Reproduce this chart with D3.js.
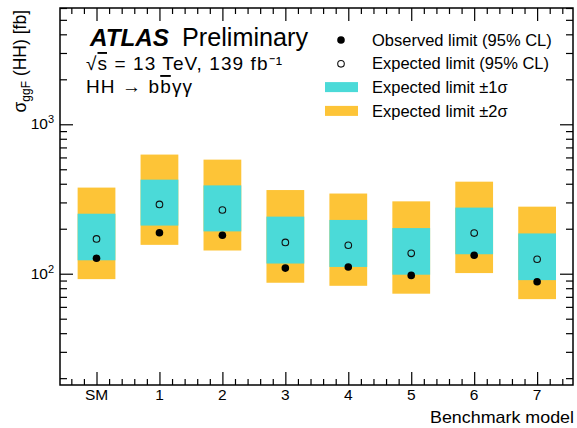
<!DOCTYPE html>
<html>
<head>
<meta charset="utf-8">
<script src="https://cdn.jsdelivr.net/npm/d3@7"></script>
<style>
  body { margin: 0; background: #fff; }
  svg text { font-family: "Liberation Sans", Arial, sans-serif; fill: #000; }
</style>
</head>
<body>
<div id="chart"></div>
<script>
// benchmark models and the limits (fb)
const models = ["SM", "1", "2", "3", "4", "5", "6", "7"];
const observed = [127, 188, 181, 109, 111, 97.4, 133, 88.4];
const expected = [171, 291, 267, 162, 155, 137, 187, 125];
const plus1 = [252, 426, 390, 241, 229, 202, 277, 186];
const minus1 = [123, 210, 192, 117, 111, 98.5, 135, 90.6];
const plus2 = [377, 627, 580, 363, 344, 305, 413, 281];
const minus2 = [92, 156, 143, 87, 83, 73.5, 101, 67.6];
const yMajor = [100, 1000];

const W = 577, H = 428;
const margin = { top: 8, right: 4, bottom: 43, left: 60 },
    width = W - margin.left - margin.right,
    height = H - margin.top - margin.bottom;

const svg = d3.select("#chart").append("svg")
    .attr("width", W).attr("height", H);
const g = svg.append("g")
    .attr("transform", `translate(${margin.left},${margin.top})`);

const x = d3.scaleLinear().domain([-0.58, 7.57]).range([0, width]);
const y = d3.scaleLog().domain([18, 6000]).range([height, 0]);

const data = models.map((m, i) => ({
    i: i, obs: observed[i], exp: expected[i],
    p1: plus1[i], m1: minus1[i], p2: plus2[i], m2: minus2[i]
}));
const bw = x(0.3) - x(0);

// +-2 sigma band
g.selectAll(".b2").data(data).enter().append("rect")
    .attr("x", d => x(d.i) - bw)
    .attr("width", 2 * bw)
    .attr("y", d => y(d.p2))
    .attr("height", d => y(d.m2) - y(d.p2))
    .attr("fill", "#fdc437");

// +-1 sigma band
g.selectAll(".b1").data(data).enter().append("rect")
    .attr("x", d => x(d.i) - bw)
    .attr("width", 2 * bw)
    .attr("y", d => y(d.p1))
    .attr("height", d => y(d.m1) - y(d.p1))
    .attr("fill", "#4bdad8");

// expected (open) and observed (filled)
g.selectAll(".exp").data(data).enter().append("circle")
    .attr("cx", d => x(d.i)).attr("cy", d => y(d.exp))
    .attr("r", 3.3).attr("fill", "none")
    .attr("stroke", "#111").attr("stroke-width", 1.1);
g.selectAll(".obs").data(data).enter().append("circle")
    .attr("cx", d => x(d.i)).attr("cy", d => y(d.obs))
    .attr("r", 3.8).attr("fill", "#000");

// ticks on all four sides
const xMinor = d3.range(-0.4, 7.5, 0.2).filter(v => Math.abs(v - Math.round(v)) > 0.01);
const yMinor = [];
[10, 100, 1000].forEach(dec => {
    for (let k = 2; k <= 9; k++) if (dec * k >= 18 && dec * k <= 6000) yMinor.push(dec * k);
});

function ax(axis, scale, vals, size, tx) {
    const sel = g.append("g").attr("transform", tx)
        .call(axis(scale).tickValues(vals).tickSizeInner(-size).tickSizeOuter(0).tickFormat(""));
    sel.select(".domain").remove();
    sel.selectAll("line").attr("stroke", "#000").attr("stroke-width", 1.2);
    return sel;
}
ax(d3.axisBottom, x, xMinor, 6, `translate(0,${height})`);
ax(d3.axisTop, x, xMinor, 6, "translate(0,0)");
ax(d3.axisBottom, x, d3.range(0, 8), 13, `translate(0,${height})`);
ax(d3.axisTop, x, d3.range(0, 8), 13, "translate(0,0)");
ax(d3.axisLeft, y, yMinor, 7, "translate(0,0)");
ax(d3.axisRight, y, yMinor, 7, `translate(${width},0)`);
ax(d3.axisLeft, y, yMajor, 13, "translate(0,0)");
ax(d3.axisRight, y, yMajor, 13, `translate(${width},0)`);

// frame
g.append("rect").attr("width", width).attr("height", height)
    .attr("fill", "none").attr("stroke", "#000").attr("stroke-width", 1.5);

// x tick labels
g.selectAll(".xl").data(models).enter().append("text")
    .attr("x", (d, i) => x(i)).attr("y", height + 15)
    .attr("text-anchor", "middle").style("font-size", "15.5px")
    .text(d => d);

// y tick labels 10^2, 10^3
yMajor.forEach(v => {
    const t = g.append("text").attr("x", -6).attr("y", y(v) + 5)
        .attr("text-anchor", "end").style("font-size", "15.5px");
    t.append("tspan").text("10");
    t.append("tspan").attr("dy", -6).style("font-size", "11px").text(Math.round(Math.log10(v)));
});

// axis titles
svg.append("text").attr("x", 430).attr("y", 423)
    .attr("textLength", 144).attr("lengthAdjust", "spacingAndGlyphs")
    .style("font-size", "17px").text("Benchmark model");
const yt = svg.append("text")
    .attr("transform", "translate(26,10) rotate(-90)")
    .attr("text-anchor", "end").style("font-size", "17.5px");
yt.append("tspan").text("σ");
yt.append("tspan").attr("dy", 4).style("font-size", "12px").text("ggF");
yt.append("tspan").attr("dy", -4).text(" (HH) [fb]");

// ATLAS label
svg.append("text").attr("x", 90).attr("y", 46)
    .attr("textLength", 79).attr("lengthAdjust", "spacingAndGlyphs")
    .style("font-size", "24px").style("font-weight", "bold").style("font-style", "italic")
    .text("ATLAS");
svg.append("text").attr("x", 182).attr("y", 46)
    .attr("textLength", 126).attr("lengthAdjust", "spacingAndGlyphs")
    .style("font-size", "25px").text("Preliminary");

const en = svg.append("text").attr("x", 86).attr("y", 70)
    .attr("textLength", 196).attr("lengthAdjust", "spacing")
    .style("font-size", "19px");
en.append("tspan").text("√");
en.append("tspan").style("text-decoration", "overline").text("s");
en.append("tspan").text(" = 13 TeV, 139 fb⁻¹");

const hh = svg.append("text").attr("x", 86).attr("y", 93)
    .attr("textLength", 106).attr("lengthAdjust", "spacing")
    .style("font-size", "19px");
hh.append("tspan").text("HH → b");
hh.append("tspan").style("text-decoration", "overline").text("b");
hh.append("tspan").text("γγ");

// legend
const leg = svg.append("g");
const rows = [
    { t: "Observed limit (95% CL)", k: "obs" },
    { t: "Expected limit (95% CL)", k: "exp" },
    { t: "Expected limit ±1σ", k: "b1" },
    { t: "Expected limit ±2σ", k: "b2" }
];
rows.forEach((r, i) => {
    const cy = 40 + i * 23.8;
    if (r.k === "obs") leg.append("circle").attr("cx", 341).attr("cy", cy).attr("r", 3.8).attr("fill", "#000");
    else if (r.k === "exp") leg.append("circle").attr("cx", 341).attr("cy", cy).attr("r", 3.3)
        .attr("fill", "none").attr("stroke", "#111").attr("stroke-width", 1.1);
    else leg.append("rect").attr("x", 325).attr("y", cy - 5.5).attr("width", 33).attr("height", 10)
        .attr("fill", r.k === "b1" ? "#4bdad8" : "#fdc437");
    leg.append("text").attr("x", 372).attr("y", cy + 5.5).style("font-size", "16.5px").text(r.t);
});
</script>
</body>
</html>
